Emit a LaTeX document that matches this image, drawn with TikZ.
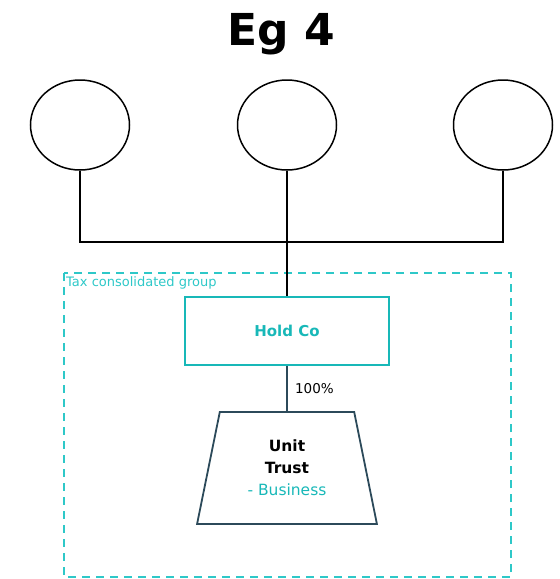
\documentclass[tikz,border=0pt]{standalone}
\usepackage{fontspec}
\setmainfont{DejaVu Sans}
\usetikzlibrary{shapes.geometric}
\definecolor{groupcyan}{RGB}{46, 200, 200}
\definecolor{holdteal}{RGB}{24, 184, 184}
\definecolor{trustslate}{RGB}{44, 74, 90}

\begin{document}
\begin{tikzpicture}[
        x=1pt, y=-1pt,
        owner/.style={draw, line width=1.5pt, ellipse, minimum width=99pt, minimum height=90pt, inner sep=0pt},
        company/.style={draw=holdteal, line width=1.6pt, minimum width=204pt, minimum height=68pt, font=\bfseries\fontsize{15}{17}\selectfont, text=holdteal},
        trust/.style={draw=trustslate, line width=1.8pt, trapezium, trapezium stretches=true, trapezium left angle=77, trapezium right angle=77, minimum width=180pt, minimum height=112pt, align=center, font=\fontsize{15.5}{22}\selectfont},
        link/.style={line width=1.5pt},
        group/.style={draw=groupcyan, line width=1.6pt, dash pattern=on 8pt off 6pt}
    ]
        \useasboundingbox (0,0) rectangle (560,579);
        % title
        \node[font=\bfseries\fontsize{44}{48}\selectfont] (title) at (281,34) {Eg 4};
        % shareholders
        \node[owner] (ownerA) at (80,125) {};
        \node[owner] (ownerB) at (287,125) {};
        \node[owner] (ownerC) at (503,125) {};
        % tax group boundary
        \draw[group] (64,273) rectangle (511,577);
        \node[anchor=north west, inner sep=0pt, text=groupcyan, font=\fontsize{13}{15}\selectfont] (grouplabel) at (66,276) {Tax consolidated group};
        % group entities
        \node[company] (holdco) at (287,331) {Hold Co};
        \node[trust] (unittrust) at (287,468) {\textbf{Unit}\\\textbf{Trust}\\\textcolor{holdteal}{- Business}};
        \coordinate (busA) at (80,242);
        \coordinate (busC) at (503,242);
        \draw[link] (ownerA) -- (busA) -- (busC) -- (ownerC);
        \draw[link] (ownerB) -- (holdco);
        \draw[link, trustslate] (holdco) -- (unittrust) node[midway, right=4pt, text=black, font=\fontsize{13.5}{15}\selectfont] {100\%};
    \end{tikzpicture}
\end{document}
